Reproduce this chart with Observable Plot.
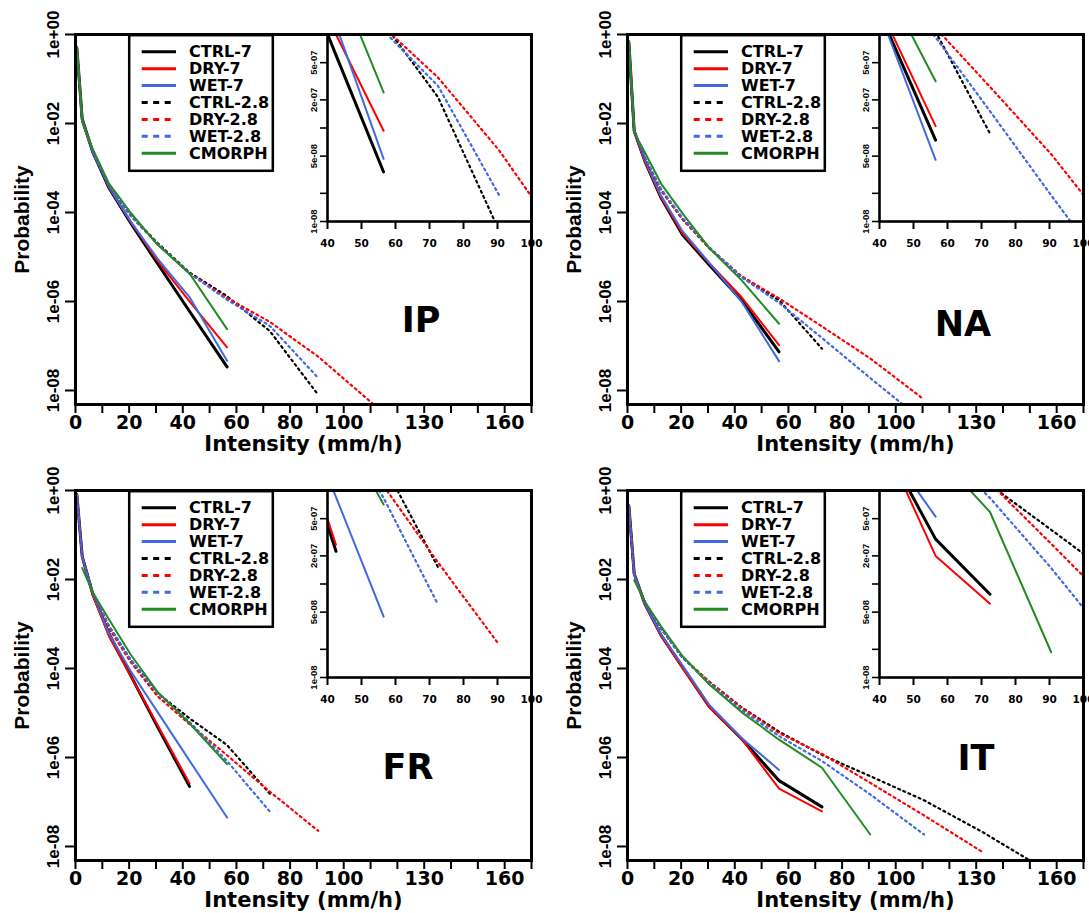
<!DOCTYPE html>
<html>
<head>
<meta charset="utf-8">
<script src="https://cdn.jsdelivr.net/npm/d3@7"></script>
<script src="https://cdn.jsdelivr.net/npm/@observablehq/plot@0.6"></script>
<style>
  body { margin: 0; background: #fff; }
  #root { position: relative; width: 1089px; height: 913px; overflow: hidden; background: #fff; }
  .panel { position: absolute; width: 545px; height: 456px; }
  .panel svg { position: absolute; }
</style>
</head>
<body>
<div id="root"></div>
<script>
// ---------- data ----------
const bins = [0.5, 2.5, 6.5, 12.5, 20.5, 30.5, 42.5, 56.5, 72.5, 90.5, 110.5, 132.5, 156.5];
const seriesNames = ["CTRL-7", "DRY-7", "WET-7", "CTRL-2.8", "DRY-2.8", "WET-2.8", "CMORPH"];
const seriesColors = ["#000000", "#ff0000", "#4169e1", "#000000", "#ff0000", "#4169e1", "#228b22"];
const seriesDashed = [false, false, false, true, true, true, false];
const regions = ["IP", "NA", "FR", "IT"];

const xTicks = [0, 10, 20, 30, 40, 50, 60, 70, 80, 90, 100, 110, 120, 130, 140, 150, 160, 170];
const xTickLabels = [0, 20, 40, 60, 80, 100, 130, 160];
const yTicks = [1, 1e-2, 1e-4, 1e-6, 1e-8];
const yTickLabels = ["1e+00", "1e-02", "1e-04", "1e-06", "1e-08"];
const insetXTicks = [40, 50, 60, 70, 80, 90, 100];
const insetYTicks = [1e-8, 2e-8, 5e-8, 1e-7, 2e-7, 5e-7];
const insetYLabelTicks = [1e-8, 5e-8, 2e-7, 5e-7];
const insetYTickLabels = ["1e-08", "5e-08", "2e-07", "5e-07"];

// log10(probability) at each bin, one row per series (order = seriesNames)
const logProbIP = [
  [-0.30, -1.90, -2.65, -3.45, -4.23, -5.14, -6.22, -7.47],
  [-0.30, -1.90, -2.65, -3.43, -4.20, -5.08, -6.00, -7.03],
  [-0.30, -1.90, -2.65, -3.43, -4.20, -5.03, -5.90, -7.33],
  [-0.30, -1.93, -2.66, -3.40, -4.05, -4.68, -5.35, -5.88, -6.67, -8.10],
  [-0.30, -1.93, -2.66, -3.40, -4.07, -4.70, -5.37, -5.92, -6.46, -7.24, -8.28],
  [-0.30, -1.93, -2.66, -3.40, -4.07, -4.70, -5.37, -5.96, -6.55, -7.72],
  [-0.27, -1.97, -2.58, -3.35, -4.00, -4.72, -5.37, -6.62]
];
const logProbNA = [
  [-0.17, -2.17, -2.85, -3.67, -4.50, -5.18, -5.97, -7.13],
  [-0.17, -2.17, -2.85, -3.66, -4.47, -5.14, -5.90, -6.98],
  [-0.17, -2.17, -2.83, -3.62, -4.42, -5.13, -6.00, -7.34],
  [-0.17, -2.17, -2.78, -3.50, -4.15, -4.80, -5.45, -5.97, -7.06],
  [-0.17, -2.17, -2.78, -3.50, -4.15, -4.80, -5.43, -5.93, -6.56, -7.28, -8.20],
  [-0.17, -2.17, -2.76, -3.47, -4.12, -4.78, -5.45, -6.03, -6.82, -7.72, -8.70],
  [-0.14, -2.20, -2.65, -3.35, -4.02, -4.80, -5.52, -6.50]
];
const logProbFR = [
  [-0.09, -1.48, -2.34, -3.22, -4.15, -5.30, -6.65],
  [-0.09, -1.48, -2.36, -3.28, -4.16, -5.26, -6.58],
  [-0.09, -1.48, -2.33, -3.22, -4.05, -4.97, -6.07, -7.35],
  [-0.09, -1.50, -2.30, -3.05, -3.80, -4.55, -5.12, -5.72, -6.82],
  [-0.09, -1.50, -2.32, -3.10, -3.85, -4.62, -5.25, -5.95, -6.77, -7.65],
  [-0.09, -1.50, -2.30, -3.05, -3.80, -4.55, -5.20, -6.08, -7.22],
  [null, -1.74, -2.30, -2.90, -3.68, -4.52, -5.23, -6.15]
];
const logProbIT = [
  [-0.34, -1.87, -2.55, -3.25, -3.97, -4.86, -5.58, -6.52, -7.11],
  [-0.34, -1.87, -2.55, -3.27, -3.99, -4.87, -5.58, -6.70, -7.21],
  [-0.34, -1.87, -2.55, -3.23, -3.93, -4.82, -5.56, -6.28],
  [-0.34, -1.92, -2.52, -3.10, -3.75, -4.30, -4.87, -5.42, -5.94, -6.42, -6.96, -7.68, -8.55],
  [-0.34, -1.92, -2.52, -3.10, -3.75, -4.30, -4.88, -5.45, -5.92, -6.57, -7.30, -8.13],
  [-0.34, -1.92, -2.52, -3.10, -3.76, -4.33, -4.93, -5.52, -6.08, -6.83, -7.73],
  [null, -2.02, -2.50, -3.05, -3.72, -4.36, -4.98, -5.60, -6.23, -7.73]
];

// ---------- layout ----------
const HFONT = "'DejaVu Sans', sans-serif";
const VFONT = "'Liberation Sans', Arial, sans-serif";
const panels = [
  {name: "IP", data: logProbIP, ox: 0, oy: 0, lx: 421, ly: 332},
  {name: "NA", data: logProbNA, ox: 552, oy: 0, lx: 411, ly: 336},
  {name: "FR", data: logProbFR, ox: 0, oy: 456, lx: 408, ly: 323},
  {name: "IT", data: logProbIT, ox: 552, oy: 456, lx: 424, ly: 314}
];

function rowsFor(logProb) {
  const rows = [];
  logProb.forEach((vals, i) => vals.forEach((v, j) => {
    if (v !== null) rows.push({s: i, x: bins[j], p: Math.pow(10, v)});
  }));
  return rows;
}

function lineMarks(rows) {
  return seriesNames.map((name, i) => {
    const opts = {
      x: "x", y: "p",
      stroke: seriesColors[i],
      strokeWidth: i === 0 ? 3 : (seriesDashed[i] ? 2.2 : 2),
      clip: true,
      strokeLinejoin: "round"
    };
    if (seriesDashed[i]) opts.strokeDasharray = "2,3.6";
    return Plot.line(rows.filter(r => r.s === i), opts);
  });
}

const root = document.getElementById("root");

panels.forEach(pn => {
  const div = document.createElement("div");
  div.className = "panel";
  div.style.left = pn.ox + "px";
  div.style.top = pn.oy + "px";
  root.appendChild(div);

  const rows = rowsFor(pn.data);

  // inset (drawn first so that the main frame lies over it)
  const inset = Plot.plot({
    width: 237, height: 219,
    marginLeft: 31, marginRight: 2, marginTop: 2, marginBottom: 30,
    x: {domain: [40, 100], label: null},
    y: {type: "log", domain: [1e-8, 1e-6], label: null},
    style: {background: "transparent", overflow: "visible", fontWeight: "bold", fontFamily: HFONT},
    marks: [
      Plot.frame({fill: "white", stroke: null}),
      ...lineMarks(rows),
      Plot.axisX({ticks: insetXTicks, tickSize: 8, tickPadding: 10, tickFormat: d => String(d),
        fontSize: 10.5, fontFamily: HFONT, fontWeight: "bold", strokeWidth: 2, label: null}),
      Plot.axisY({ticks: insetYTicks, tickSize: 7, tickFormat: () => "", strokeWidth: 1.6, label: null}),
      Plot.text(insetYLabelTicks, {y: d => d, text: (d, i) => insetYTickLabels[i], frameAnchor: "left",
        dx: -10.5, rotate: -90, lineAnchor: "bottom", textAnchor: "middle",
        fontSize: 9.5, fontFamily: VFONT, fontWeight: "bold"}),
      Plot.frame({strokeWidth: 2.6})
    ]
  });
  inset.style.left = "296px";
  inset.style.top = "32px";
  div.appendChild(inset);

  // main chart
  const main = Plot.plot({
    width: 545, height: 456,
    marginLeft: 75, marginRight: 14, marginTop: 34, marginBottom: 52,
    x: {domain: [0, 170], label: null},
    y: {type: "log", domain: [Math.pow(10, -8.315), 1], label: null},
    style: {background: "transparent", overflow: "visible", fontWeight: "bold", fontFamily: HFONT},
    marks: [
      ...lineMarks(rows),
      Plot.axisX({ticks: xTicks, tickSize: 9, tickPadding: 2,
        tickFormat: d => xTickLabels.includes(d) ? String(d) : "",
        fontSize: 19, fontFamily: HFONT, fontWeight: "bold", strokeWidth: 2, label: null}),
      Plot.axisY({ticks: yTicks, tickSize: 10, tickFormat: () => "", strokeWidth: 2, label: null}),
      Plot.text(yTicks, {y: d => d, text: (d, i) => yTickLabels[i], frameAnchor: "left",
        dx: -17, rotate: -90, lineAnchor: "bottom", textAnchor: "middle",
        fontSize: 17, fontFamily: VFONT, fontWeight: "bold"}),
      Plot.text(["Probability"], {text: d => d, frameAnchor: "left", dx: -47, rotate: -90,
        lineAnchor: "bottom", textAnchor: "middle", fontSize: 21, fontFamily: VFONT, fontWeight: "bold"}),
      Plot.text(["Intensity (mm/h)"], {text: d => d, frameAnchor: "bottom", dy: 46,
        lineAnchor: "bottom", fontSize: 21, fontFamily: HFONT, fontWeight: "bold"}),
      Plot.frame({strokeWidth: 3})
    ]
  });
  main.style.left = "0px";
  main.style.top = "0px";
  div.appendChild(main);

  // legend + region label overlay
  const ov = d3.create("svg")
    .attr("width", 545).attr("height", 456)
    .style("left", "0px").style("top", "0px")
    .style("pointer-events", "none").style("overflow", "visible");
  const lg = ov.append("g").attr("transform", "translate(128,34)");
  lg.append("rect").attr("x", 1.2).attr("y", 1.2).attr("width", 143.6).attr("height", 135.6)
    .attr("fill", "white").attr("stroke", "black").attr("stroke-width", 2.5);
  seriesNames.forEach((name, i) => {
    const cy = 17.7 + 16.93 * i;
    lg.append("line").attr("x1", 13.7).attr("x2", 48).attr("y1", cy).attr("y2", cy)
      .attr("stroke", seriesColors[i]).attr("stroke-width", 3)
      .attr("stroke-dasharray", seriesDashed[i] ? "6,5.5" : null);
    lg.append("text").attr("x", 61).attr("y", cy + 5.6)
      .attr("font-family", HFONT).attr("font-weight", "bold").attr("font-size", 16)
      .attr("fill", "black").text(name);
  });
  ov.append("text").attr("x", pn.lx).attr("y", pn.ly)
    .attr("text-anchor", "middle").attr("font-family", HFONT).attr("font-weight", "bold")
    .attr("font-size", 35).attr("fill", "black").text(pn.name);
  div.appendChild(ov.node());
});
</script>
</body>
</html>
